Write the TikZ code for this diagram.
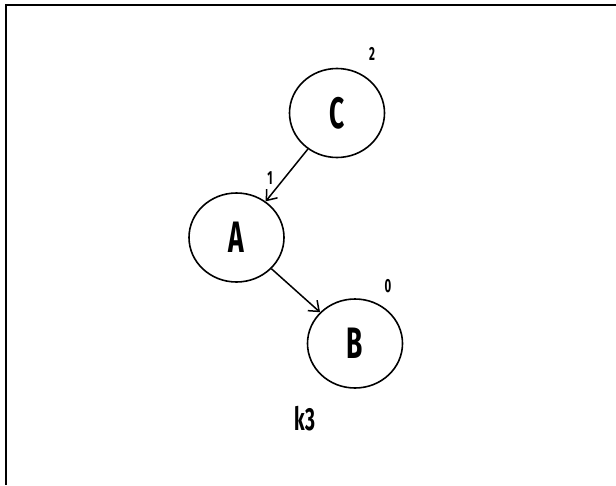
\documentclass[tikz,border=0pt]{standalone}
\usepackage{fontspec}
\newfontfamily\hand[FakeStretch=0.6,BoldFont={* Bold}]{Fira Sans}
\usetikzlibrary{arrows.meta,shapes.geometric}
\begin{document}
\begin{tikzpicture}[x=1pt,y=-1pt,
  vertex/.style={draw,line width=1.6pt,ellipse,minimum width=95pt,minimum height=89pt,inner sep=0pt,font=\hand\bfseries\fontsize{44}{44}\selectfont},
  weight/.style={inner sep=0pt,font=\hand\bfseries\fontsize{19}{19}\selectfont},
  edge/.style={line width=1.5pt,-{Straight Barb[length=9pt,width=14pt,line width=1.5pt]}},
  frame/.style={line width=2pt}]
\useasboundingbox (0,0) rectangle (616,485);
\coordinate (tl) at (5.5,5);
\coordinate (tr) at (616,5);
\coordinate (bl) at (5.5,485);
\draw[frame] (tr) -- (tl) -- (bl);
\node[vertex] (C) at (337,113) {C};
\node[vertex] (A) at (236.5,237.5) {A};
\node[vertex] (B) at (355,343.5) {B};
\node[weight] (w2) at (372,54) {2};
\node[weight] (w1) at (270,178) {1};
\node[weight] (w0) at (388,286) {0};
\node[inner sep=0pt,font=\hand\bfseries\fontsize{32}{32}\selectfont] (k) at (305,419) {k3};
\draw[edge] (C) -- (A);
\draw[edge] (A) -- (B);
\end{tikzpicture}
\end{document}
